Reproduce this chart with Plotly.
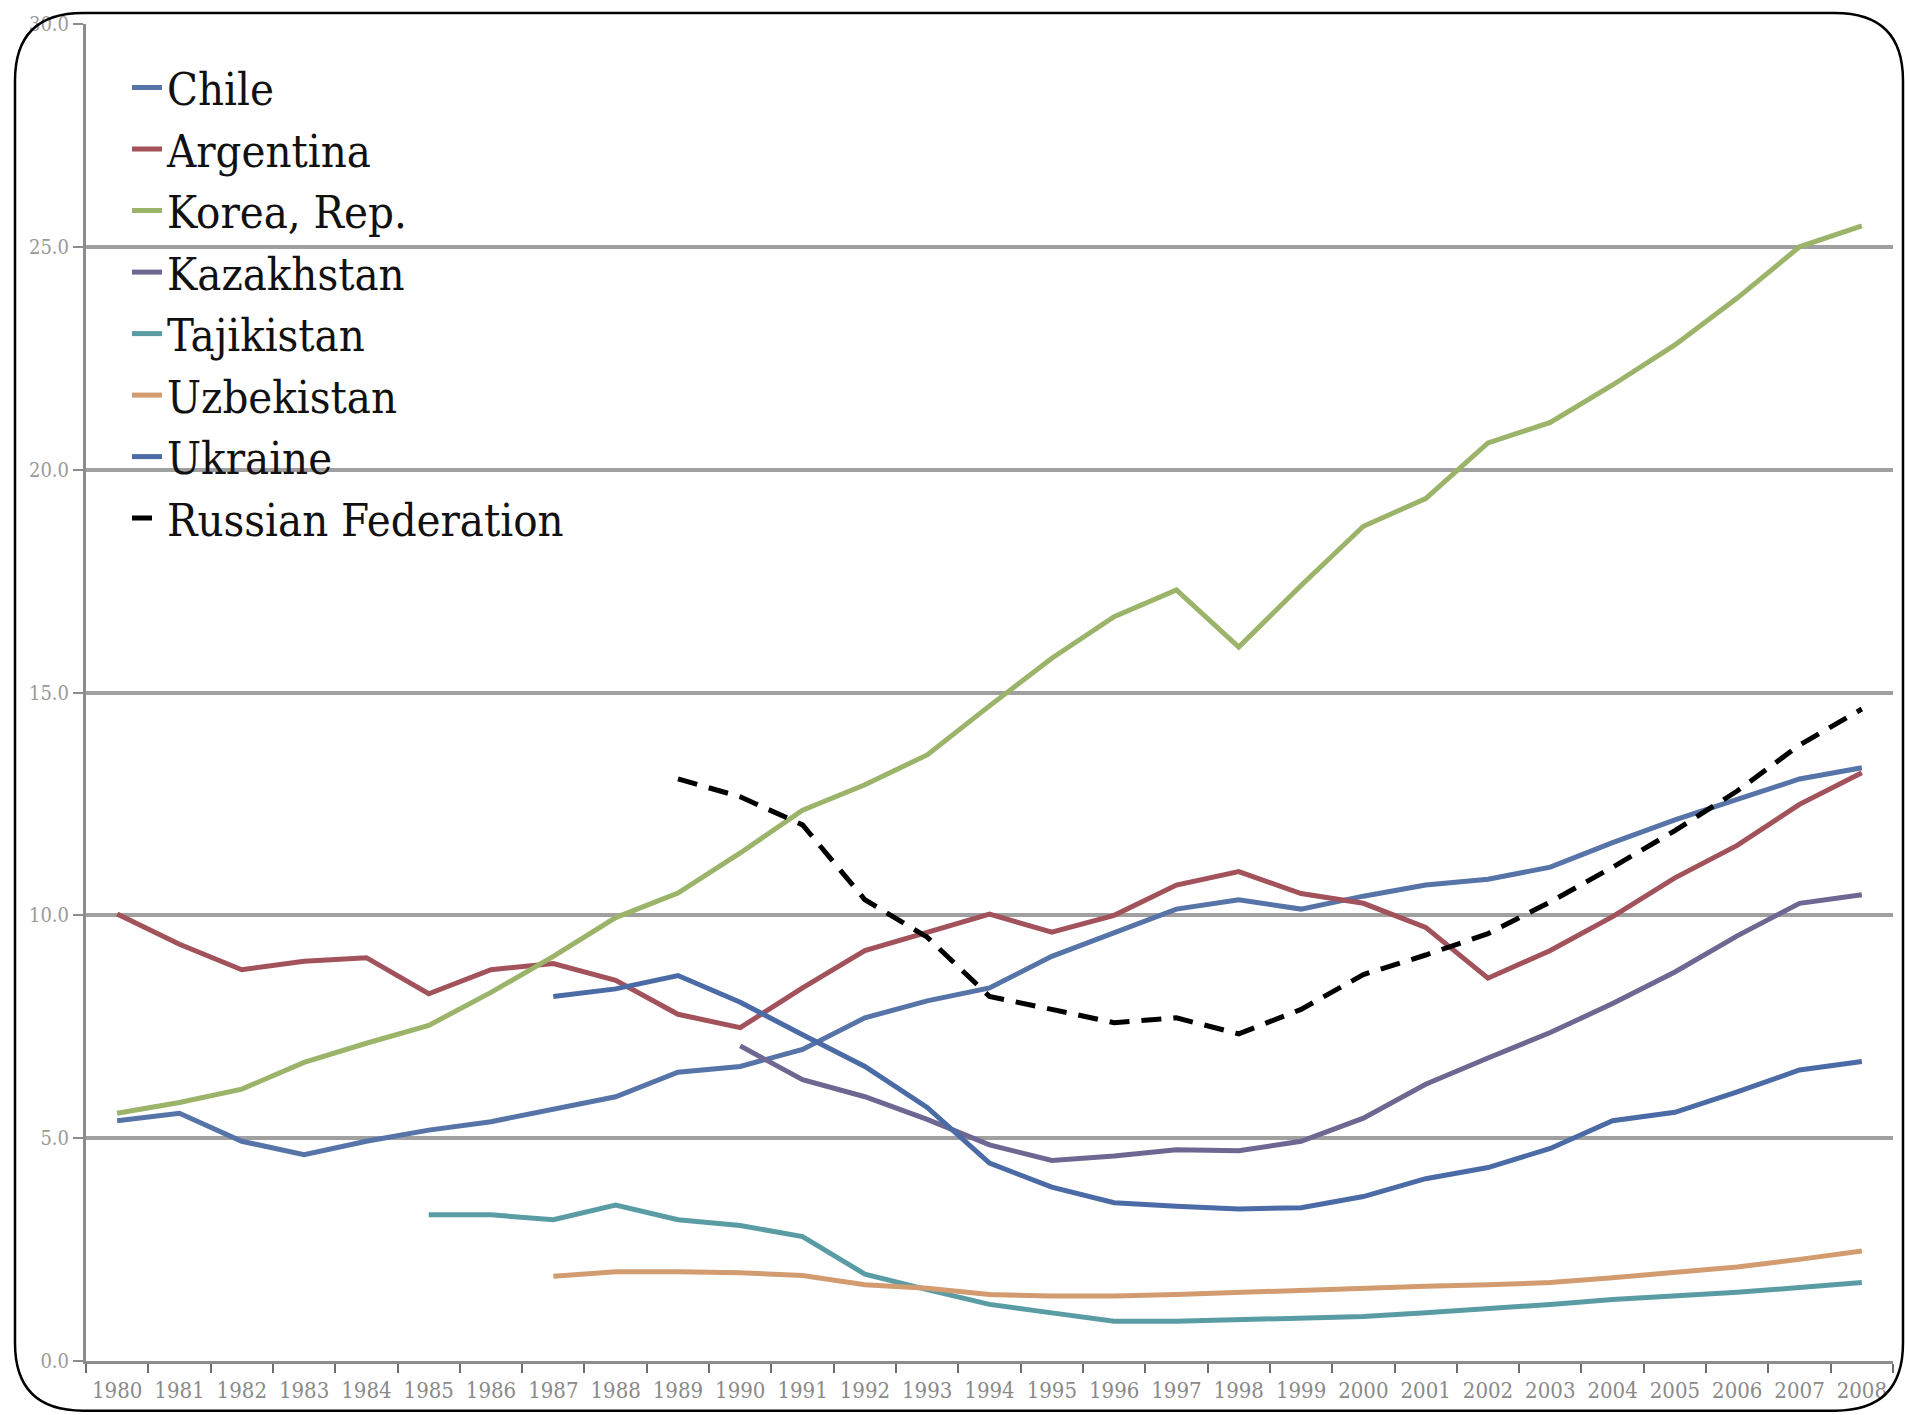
import plotly.graph_objects as go

years = [str(y) for y in range(1980, 2009)]

chile = [5.39, 5.56, 4.93, 4.63, 4.93, 5.18, 5.37, 5.64, 5.93, 6.48, 6.61, 6.99, 7.70, 8.08, 8.37,
         9.08, 9.62, 10.14, 10.35, 10.14, 10.43, 10.68, 10.81, 11.08, 11.63, 12.14, 12.60, 13.06, 13.31]
argentina = [10.03, 9.35, 8.78, 8.97, 9.05, 8.24, 8.78, 8.92, 8.54, 7.78, 7.48, 8.37, 9.21, 9.62, 10.03,
             9.62, 10.00, 10.68, 10.98, 10.49, 10.27, 9.73, 8.59, 9.21, 9.97, 10.84, 11.57, 12.49, 13.20]
korea = [5.56, 5.80, 6.10, 6.70, 7.13, 7.53, 8.27, 9.08, 9.95, 10.50, 11.40, 12.36, 12.93, 13.60, 14.70,
         15.77, 16.70, 17.30, 16.02, 17.40, 18.73, 19.35, 20.60, 21.06, 21.90, 22.80, 23.85, 25.00, 25.47]
kazakhstan = [None] * 10 + [7.07, 6.31, 5.93, 5.42, 4.85, 4.50, 4.60, 4.74, 4.72, 4.93, 5.45, 6.21,
                            6.80, 7.37, 8.02, 8.73, 9.54, 10.27, 10.46]
tajikistan = [None] * 5 + [3.28, 3.28, 3.17, 3.50, 3.17, 3.04, 2.79, 1.95, 1.60, 1.27, 1.08, 0.89, 0.89,
                           0.92, 0.95, 1.00, 1.08, 1.17, 1.27, 1.38, 1.46, 1.54, 1.65, 1.76]
uzbekistan = [None] * 7 + [1.90, 2.00, 2.00, 1.98, 1.92, 1.71, 1.63, 1.49, 1.46, 1.46, 1.49, 1.54, 1.57,
                           1.63, 1.68, 1.71, 1.76, 1.87, 1.98, 2.11, 2.28, 2.47]
ukraine = [None] * 7 + [8.18, 8.35, 8.65, 8.05, 7.32, 6.61, 5.69, 4.44, 3.90, 3.55, 3.47, 3.41, 3.44,
                        3.69, 4.09, 4.34, 4.77, 5.39, 5.58, 6.04, 6.53, 6.72]
russia = [None] * 9 + [13.06, 12.66, 12.03, 10.35, 9.51, 8.18, 7.89, 7.59, 7.70, 7.34, 7.89, 8.67, 9.11,
                       9.59, 10.30, 11.08, 11.90, 12.79, 13.82, 14.63]

y_ticks = [0, 5, 10, 15, 20, 25, 30]
y_tick_text = ["0.0", "5.0", "10.0", "15.0", "20.0", "25.0", "30.0"]

series = [
    ("Chile", chile, "#5674A8", "solid"),
    ("Argentina", argentina, "#A2525A", "solid"),
    ("Korea, Rep.", korea, "#9BB46A", "solid"),
    ("Kazakhstan", kazakhstan, "#6E6792", "solid"),
    ("Tajikistan", tajikistan, "#5A9CA4", "solid"),
    ("Uzbekistan", uzbekistan, "#D29C70", "solid"),
    ("Ukraine", ukraine, "#4B6BA6", "solid"),
    ("Russian Federation", russia, "#000000", "dash"),
]

SERIF_C = "DejaVu Serif Condensed, DejaVu Serif, Liberation Serif, serif"

W, H = 1905, 1415
L, R, T, B = 86, 12, 24, 47
PW, PH = W - L - R, H - T - B

fig = go.Figure()
for name, vals, color, dash in series:
    fig.add_trace(go.Scatter(
        x=years, y=vals, name=name, mode="lines",
        line=dict(color=color, width=5, dash="20px,12px" if dash == "dash" else "solid"),
        connectgaps=False,
    ))


def px2paper(px, py):
    return (px - L) / PW, (H - B - py) / PH


def rounded_rect(x0, y0, x1, y1, r):
    def p(x, y):
        a, b = px2paper(x, y)
        return f"{a:.5f},{b:.5f}"
    return (f"M {p(x0 + r, y0)} L {p(x1 - r, y0)} Q {p(x1, y0)} {p(x1, y0 + r)} "
            f"L {p(x1, y1 - r)} Q {p(x1, y1)} {p(x1 - r, y1)} "
            f"L {p(x0 + r, y1)} Q {p(x0, y1)} {p(x0, y1 - r)} "
            f"L {p(x0, y0 + r)} Q {p(x0, y0)} {p(x0 + r, y0)} Z")


fig.update_layout(
    width=W, height=H,
    margin=dict(l=L, r=R, t=T, b=B),
    paper_bgcolor="white", plot_bgcolor="white",
    font=dict(family=SERIF_C, color="#000000"),
    showlegend=True,
    legend=dict(
        x=(127 - L) / PW, y=(H - B - 52) / PH, xanchor="left", yanchor="top",
        bgcolor="rgba(0,0,0,0)", borderwidth=0,
        font=dict(size=45, family=SERIF_C, color="#111111"),
        itemwidth=30, tracegroupgap=0,
    ),
    xaxis=dict(
        type="category", range=[-0.5, 28.5],
        showgrid=False, showline=True, linecolor="#8c8c8c", linewidth=3,
        ticks="outside", ticklen=9, tickwidth=2, tickcolor="#6e6e6e",
        tickson="boundaries", ticklabelstandoff=8,
        tickfont=dict(size=22, color="#8a8a8a", family=SERIF_C),
        zeroline=False,
    ),
    yaxis=dict(
        range=[0, 30], tickvals=y_ticks, ticktext=y_tick_text,
        showgrid=True, gridcolor="#a0a0a0", gridwidth=3.5,
        showline=True, linecolor="#8c8c8c", linewidth=3,
        ticks="outside", ticklen=10, tickwidth=2, tickcolor="#8c8c8c",
        tickfont=dict(size=20, color="#9a9a9a", family=SERIF_C),
        zeroline=False,
    ),
    shapes=[dict(
        type="path", xref="paper", yref="paper",
        path=rounded_rect(15, 13, 1903, 1418, 68),
        line=dict(color="#000000", width=2.5), fillcolor="rgba(0,0,0,0)",
        layer="above",
    )],
)

fig.write_html("out.html", config={"displayModeBar": False},
               post_script="document.body.style.margin='0';")
